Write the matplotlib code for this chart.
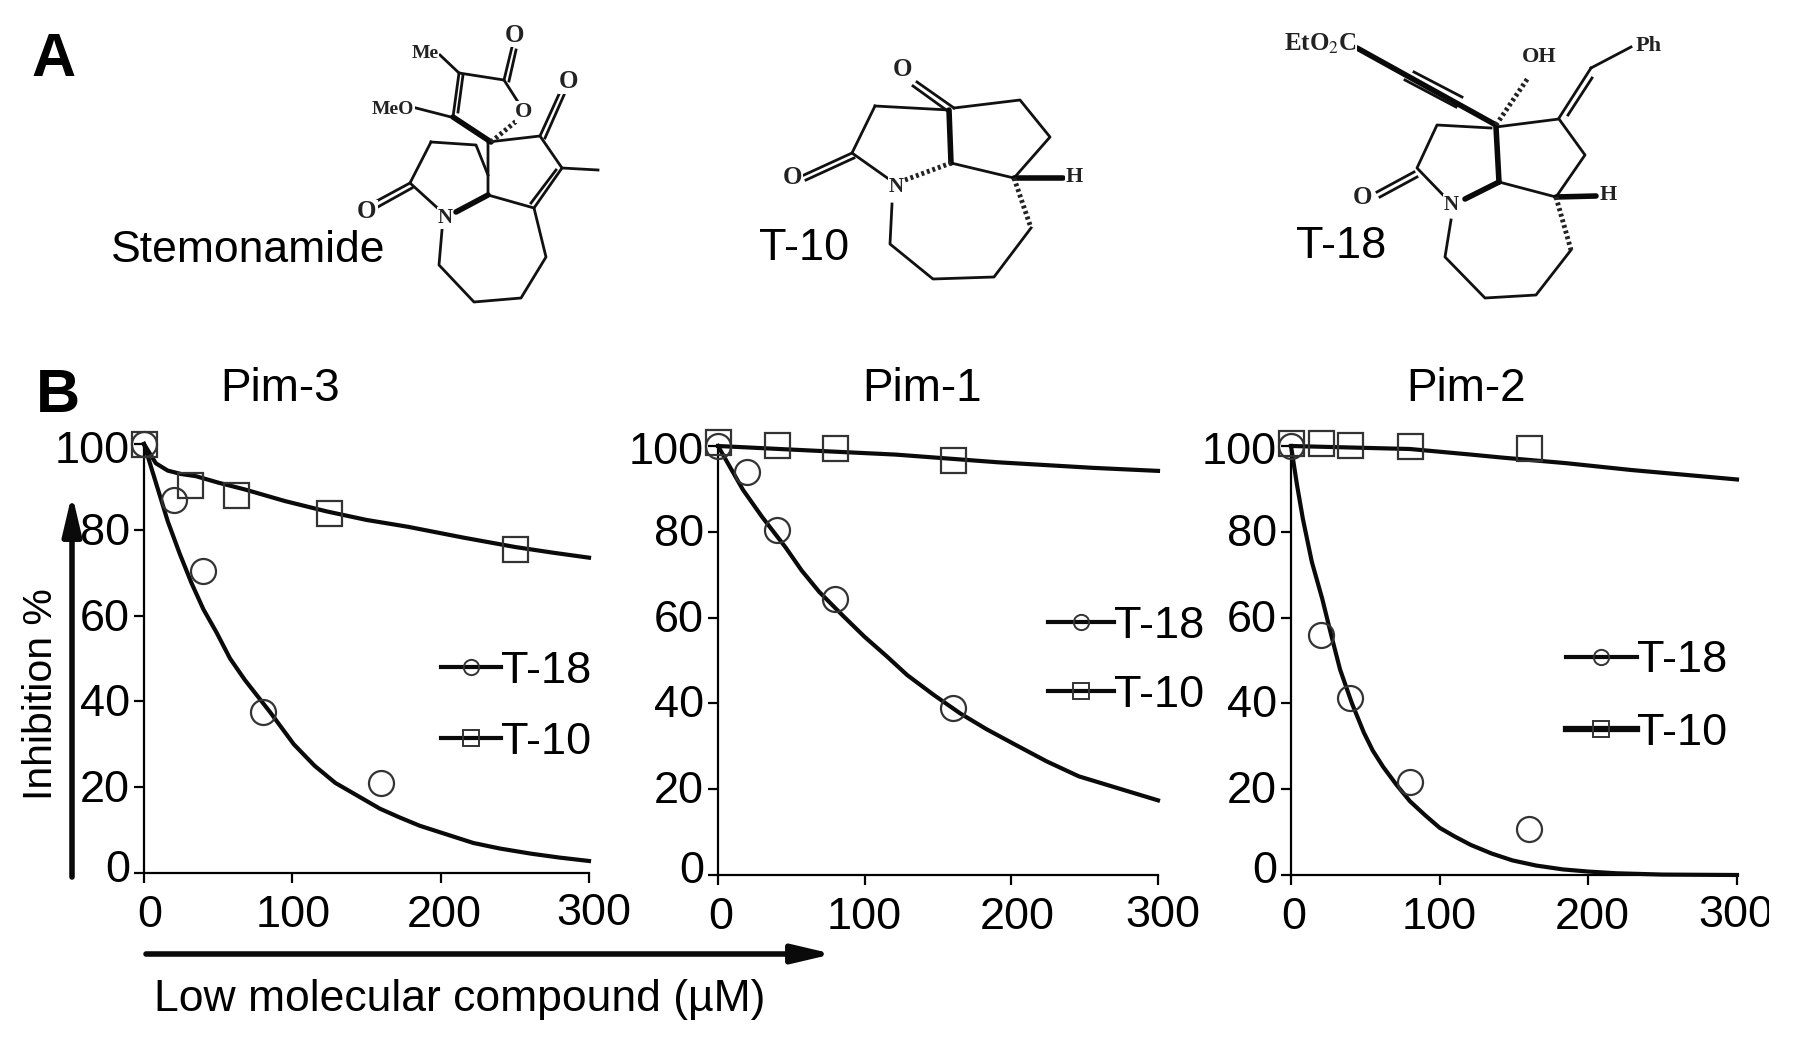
import matplotlib

matplotlib.use("Agg")
import matplotlib.pyplot as plt
from matplotlib.lines import Line2D
from matplotlib.transforms import Affine2D, Bbox

plt.rcParams["font.family"] = ["Liberation Sans", "DejaVu Sans"]

WIDTH, HEIGHT = 1795, 1044
TICK_SIZE = 32.5
SERIF = ["Liberation Serif", "DejaVu Serif"]

PIM3_T18_X = [0, 20, 40, 80, 160]
PIM3_T18_Y = [100, 87, 70.5, 37.5, 21]
PIM3_T10_X = [0, 31, 62, 125, 250]
PIM3_T10_Y = [100, 90.5, 88, 84, 75.5]
PIM3_T18_CURVE_X = [0, 8, 16, 24, 32, 40, 49, 58, 68, 85, 101, 115, 129, 145, 159, 172, 186, 204, 222, 240, 261, 280, 300]
PIM3_T18_CURVE_Y = [100, 91, 82, 74.5, 67.6, 61.5, 56, 50, 45, 37.5, 30, 25, 21, 17.8, 15, 13, 11, 9, 7, 5.7, 4.5, 3.6, 2.8]
PIM3_T10_CURVE_X = [0, 8, 16, 25, 35, 50, 68, 95, 123, 150, 178, 215, 250, 275, 300]
PIM3_T10_CURVE_Y = [100, 95.5, 93.8, 93, 92.5, 91, 89.4, 86.7, 84.3, 82.3, 80.7, 78.2, 76, 74.7, 73.5]

PIM1_T18_X = [0, 20, 40, 80, 160]
PIM1_T18_Y = [100, 94, 80.5, 64.4, 39]
PIM1_T10_X = [0, 40, 80, 160]
PIM1_T10_Y = [100.9, 100.3, 99.5, 96.7]
PIM1_T18_CURVE_X = [0, 8, 17, 30, 46, 57, 69, 85, 100, 115, 129, 147, 165, 183, 202, 224, 246, 272, 300]
PIM1_T18_CURVE_Y = [100, 95.2, 89.8, 83.5, 76.4, 71, 66, 60.5, 55.5, 51, 46.6, 42, 37.7, 34, 30.5, 26.5, 23, 20.3, 17.4]
PIM1_T10_CURVE_X = [0, 60, 121, 191, 256, 300]
PIM1_T10_CURVE_Y = [100, 99, 98, 96.2, 94.9, 94.2]

PIM2_T18_X = [0, 20, 40, 80, 160]
PIM2_T18_Y = [100, 55.9, 41.2, 21.6, 10.7]
PIM2_T10_X = [0, 20, 40, 80, 160]
PIM2_T10_Y = [100.6, 100.7, 100.2, 100, 99.5]
PIM2_T18_CURVE_X = [0, 4, 8, 14, 21, 27, 33, 41, 49, 55, 62, 71, 80, 90, 100, 110, 121, 135, 149, 165, 183, 200, 219, 250, 300]
PIM2_T18_CURVE_Y = [100, 91, 83, 73, 64.4, 56, 47.9, 40, 33.2, 29, 25.2, 21, 17.2, 14, 11, 9, 7, 5, 3.4, 2.2, 1.3, 0.8, 0.4, 0.1, 0]
PIM2_T10_CURVE_X = [0, 80, 121, 142, 185, 229, 300]
PIM2_T10_CURVE_Y = [100, 99.3, 98, 97.3, 96, 94.4, 92.2]

X_TICKS = [0, 100, 200, 300]
Y_TICKS = [0, 20, 40, 60, 80, 100]

# structure drawings, all in pixels of the full picture
THIN_BONDS = [
    # stemonamide
    [(440, 55), (459, 73), (504, 80), (520, 105)],
    [(504, 80), (512, 47)], [(509, 81), (516, 50)],
    [(459, 73), (453, 117)], [(463, 75), (458, 112)],
    [(416, 108), (451, 117)],
    [(488, 142), (540, 136), (562, 168), (598, 170)],
    [(540, 136), (560, 92)], [(545, 138), (564, 95)],
    [(562, 168), (534, 208), (488, 195), (488, 142)],
    [(556, 170), (531, 203)],
    [(431, 142), (476, 145), (488, 175)],
    [(443, 213), (410, 183), (431, 142)],
    [(373, 203), (410, 183)], [(376, 208), (412, 188)],
    [(442, 230), (439, 265), (474, 302), (521, 298), (546, 257), (534, 208)],
    # T-10
    [(917, 82), (954, 108)], [(913, 86), (949, 112)],
    [(954, 108), (1020, 100), (1050, 137), (1014, 178), (951, 163)],
    [(875, 106), (949, 110)],
    [(875, 106), (852, 153), (893, 182)],
    [(804, 175), (852, 153)], [(806, 180), (854, 158)],
    [(892, 204), (890, 244), (933, 279), (994, 277), (1031, 228)],
    # T-18
    [(1591, 68), (1559, 118)], [(1592, 78), (1568, 115)],
    [(1631, 47), (1591, 68)],
    [(1405, 80), (1456, 107)], [(1414, 72), (1462, 97)],
    [(1496, 127), (1559, 119), (1585, 155), (1556, 197), (1499, 182)],
    [(1445, 197), (1417, 168), (1437, 125), (1491, 128)],
    [(1377, 192), (1414, 172)], [(1380, 197), (1417, 177)],
    [(1451, 220), (1445, 257), (1485, 298), (1536, 295), (1571, 250)],
]
BOLD_BONDS = [
    [(453, 117), (491, 142)],
    [(488, 195), (456, 212)],
    [(949, 110), (951, 163)],
    [(1014, 178), (1063, 178)],
    [(1357, 48), (1496, 125)],
    [(1496, 127), (1499, 182)],
    [(1499, 182), (1465, 199)],
    [(1556, 197), (1596, 196)],
]
HASH_BONDS = [
    [(491, 142), (520, 118)],
    [(905, 180), (951, 163)],
    [(1014, 178), (1031, 228)],
    [(1496, 125), (1528, 78)],
    [(1556, 197), (1571, 250)],
]
ATOM_LABELS = [
    ("Me", 425, 53, 14), ("MeO", 393, 109, 14), ("O", 515, 35, 18), ("O", 524, 112, 16),
    ("O", 568, 82, 18), ("O", 367, 212, 18), ("N", 445, 218, 15),
    ("O", 903, 70, 18), ("O", 792, 178, 18), ("N", 896, 187, 15), ("H", 1074, 177, 16),
    ("EtO$_2$C", 1320, 44, 18), ("OH", 1539, 57, 16), ("Ph", 1649, 46, 16),
    ("O", 1363, 197, 18), ("N", 1451, 205, 15), ("H", 1608, 195, 16),
]


def plot_panel(fig, box, t18, t10, x_nudge, y_shift=0, clip_right=None):
    left, right, top, bottom = box
    ax = fig.add_axes(
        [left / WIDTH, 1 - bottom / HEIGHT, (right - left) / WIDTH, (bottom - top) / HEIGHT]
    )
    ax.patch.set_alpha(0)
    for curve_x, curve_y, _, _, _ in (t18, t10):
        ax.plot(curve_x, curve_y, color="#0a0a0a", lw=3, clip_on=False, zorder=3)
    for _, _, x, y, marker in (t18, t10):
        ax.plot(
            x, y, ls="none", marker=marker, ms=18, mfc="none", mec="#333333", mew=1.6,
            clip_on=False, zorder=4,
        )
    ax.set_xlim(0, 300)
    ax.set_ylim(0, 100)
    ax.spines["top"].set_visible(False)
    ax.spines["right"].set_visible(False)
    ax.spines["left"].set_linewidth(1.6)
    ax.spines["bottom"].set_linewidth(1.6)
    ax.set_xticks(X_TICKS)
    ax.set_yticks(Y_TICKS)
    ax.tick_params(axis="x", length=7, width=1.6, labelsize=TICK_SIZE, pad=9)
    ax.tick_params(axis="y", length=7, width=1.6, labelsize=TICK_SIZE, pad=3)
    for label, (dx, dy) in zip(ax.get_xticklabels(), x_nudge):
        label.set_transform(label.get_transform() + Affine2D().translate(dx, dy))
        if clip_right is not None:
            label.set_clip_on(True)
            label.set_clip_box(Bbox([[0, 0], [clip_right, HEIGHT]]))
    y_labels = ax.get_yticklabels()
    for label in y_labels:
        label.set_transform(label.get_transform() + Affine2D().translate(0, y_shift))
    y_labels[0].set_transform(y_labels[0].get_transform() + Affine2D().translate(0, 6))
    y_labels[-1].set_transform(y_labels[-1].get_transform() + Affine2D().translate(0, -4))
    return ax


def add_legend(ax, overlay, x, y, spacing, handle_len, t10_lw=3):
    handles = [
        Line2D([], [], color="#0a0a0a", lw=3, marker="o", ms=11, mfc="none", mec="#333333", mew=1.4),
        Line2D([], [], color="#0a0a0a", lw=t10_lw, marker="s", ms=11, mfc="none", mec="#333333", mew=1.4),
    ]
    ax.legend(
        handles, ["T-18", "T-10"], loc="center left", bbox_to_anchor=(x, y),
        bbox_transform=overlay.transData, frameon=False, fontsize=32.5, borderpad=0,
        borderaxespad=0, handlelength=handle_len, handletextpad=0.0, labelspacing=spacing,
    )


fig = plt.figure(figsize=(WIDTH / 100, HEIGHT / 100), dpi=100)
overlay = fig.add_axes([0, 0, 1, 1])
overlay.set_xlim(0, WIDTH)
overlay.set_ylim(HEIGHT, 0)
overlay.axis("off")

for bond in THIN_BONDS:
    overlay.plot(*zip(*bond), color="#111111", lw=2, solid_joinstyle="round")
for bond in BOLD_BONDS:
    overlay.plot(*zip(*bond), color="#0a0a0a", lw=4, solid_capstyle="round")
for bond in HASH_BONDS:
    overlay.plot(*zip(*bond), color="#222222", lw=3.5, ls=(0, (0.6, 0.6)))
for label, x, y, size in ATOM_LABELS:
    overlay.text(
        x, y, label, family=SERIF, fontsize=size, fontweight="bold", ha="center", va="center",
        color="#222222", math_fontfamily="stix",
        bbox=dict(fc="white", ec="none", pad=0.5),
    )

overlay.text(31, 76, "A", fontsize=44, fontweight="bold", ha="left", va="baseline")
overlay.text(36, 412, "B", fontsize=44, fontweight="bold", ha="left", va="baseline")
overlay.text(111, 250, "Stemonamide", fontsize=32, ha="left", va="center")
overlay.text(759, 249, "T-10", fontsize=32.5, ha="left", va="center")
overlay.text(1296, 247, "T-18", fontsize=32.5, ha="left", va="center")
overlay.text(280, 389, "Pim-3", fontsize=33, ha="center", va="center")
overlay.text(922, 389, "Pim-1", fontsize=33, ha="center", va="center")
overlay.text(1466, 389, "Pim-2", fontsize=33, ha="center", va="center")
overlay.text(41, 694, "Inhibition %", fontsize=29.5, rotation=90, ha="center", va="center")
overlay.text(154, 1000, "Low molecular compound (µM)", fontsize=32, ha="left", va="center")

arrow = dict(
    arrowstyle="-|>,head_width=0.2,head_length=0.85", color="#0a0a0a", lw=4,
    shrinkA=0, shrinkB=0, mutation_scale=28,
)
overlay.annotate("", xy=(72, 494), xytext=(72, 877), arrowprops=arrow)
overlay.annotate("", xy=(833, 954), xytext=(146, 954), arrowprops=arrow)

ax3 = plot_panel(
    fig, (144, 589, 444, 873),
    (PIM3_T18_CURVE_X, PIM3_T18_CURVE_Y, PIM3_T18_X, PIM3_T18_Y, "o"),
    (PIM3_T10_CURVE_X, PIM3_T10_CURVE_Y, PIM3_T10_X, PIM3_T10_Y, "s"),
    [(6, 0), (1, 0), (4, 0), (5, 2)],
    y_shift=1,
)
ax1 = plot_panel(
    fig, (718, 1158, 446, 875),
    (PIM1_T18_CURVE_X, PIM1_T18_CURVE_Y, PIM1_T18_X, PIM1_T18_Y, "o"),
    (PIM1_T10_CURVE_X, PIM1_T10_CURVE_Y, PIM1_T10_X, PIM1_T10_Y, "s"),
    [(3, 0), (0, 0), (6, 0), (5, 2)],
    y_shift=2,
)
ax2 = plot_panel(
    fig, (1291, 1737, 446, 875),
    (PIM2_T18_CURVE_X, PIM2_T18_CURVE_Y, PIM2_T18_X, PIM2_T18_Y, "o"),
    (PIM2_T10_CURVE_X, PIM2_T10_CURVE_Y, PIM2_T10_X, PIM2_T10_Y, "s"),
    [(3, 0), (0, 0), (4, 0), (-1, 2)],
    y_shift=2,
    clip_right=1769,
)

add_legend(ax3, overlay, 441, 707, 0.66, 1.33)
add_legend(ax1, overlay, 1048, 661, 0.62, 1.47)
add_legend(ax2, overlay, 1566, 697, 0.69, 1.57, t10_lw=4.5)

fig.savefig("out.png", dpi=100, facecolor="white")
